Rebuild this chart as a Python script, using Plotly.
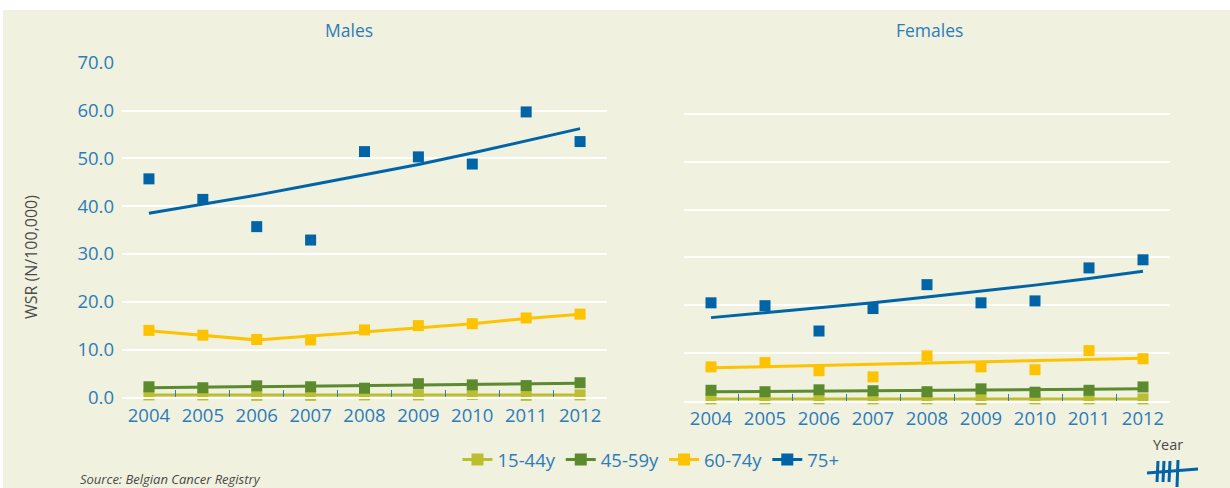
import plotly.graph_objects as go

# Incidence (WSR per 100,000) by age group, Belgium 2004-2012
years = ["2004", "2005", "2006", "2007", "2008", "2009", "2010", "2011", "2012"]
age_groups = ["15-44y", "45-59y", "60-74y", "75+"]

# Males: observed rates
males_15_44 = [0.5, 0.5, 0.4, 0.4, 0.5, 0.5, 0.6, 0.4, 0.5]
males_45_59 = [2.2, 2.0, 2.4, 2.2, 1.9, 2.85, 2.6, 2.45, 3.05]
males_60_74 = [14.0, 13.0, 12.1, 12.0, 14.1, 15.0, 15.4, 16.6, 17.4]
males_75 = [45.7, 41.4, 35.7, 32.9, 51.4, 50.3, 48.8, 59.7, 53.5]
# Males: fitted trends
males_15_44_fit = [0.5, 0.5, 0.5, 0.5, 0.5, 0.5, 0.5, 0.5, 0.5]
males_45_59_fit = [2.0, 2.1, 2.2, 2.3, 2.4, 2.55, 2.65, 2.8, 2.95]
males_60_74_fit = [13.9, 12.9, 12.0, 12.8, 13.7, 14.6, 15.4, 16.5, 17.4]
males_75_fit = [38.5, 40.4, 42.3, 44.4, 46.6, 48.7, 51.1, 53.6, 56.2]

# Females: observed rates
females_15_44 = [0.4, 0.4, 0.4, 0.4, 0.4, 0.3, 0.4, 0.4, 0.4]
females_45_59 = [2.2, 1.9, 2.3, 2.1, 1.9, 2.5, 1.8, 2.2, 2.9]
females_60_74 = [7.1, 8.0, 6.3, 5.0, 9.4, 7.1, 6.5, 10.5, 8.8]
females_75 = [20.5, 19.9, 14.6, 19.3, 24.3, 20.5, 20.9, 27.8, 29.5]
# Females: fitted trends
females_15_44_fit = [0.4, 0.4, 0.4, 0.4, 0.4, 0.4, 0.4, 0.4, 0.4]
females_45_59_fit = [1.9, 1.95, 2.0, 2.05, 2.1, 2.2, 2.3, 2.4, 2.5]
females_60_74_fit = [6.9, 7.15, 7.4, 7.65, 7.9, 8.15, 8.4, 8.65, 8.9]
females_75_fit = [17.4, 18.4, 19.4, 20.5, 21.7, 22.9, 24.2, 25.6, 27.1]

y_ticks = [0, 10, 20, 30, 40, 50, 60, 70]

colors = ["#BBBE30", "#5C8A2F", "#FDC300", "#0064A7"]
TEXT_BLUE = "#2C7CBB"
GREY = "#4A4A4A"
BG = "#F0F1DE"
FONT = "Open Sans"
W, H = 1230, 488

males_obs = [males_15_44, males_45_59, males_60_74, males_75]
males_fit = [males_15_44_fit, males_45_59_fit, males_60_74_fit, males_75_fit]
females_obs = [females_15_44, females_45_59, females_60_74, females_75]
females_fit = [females_15_44_fit, females_45_59_fit, females_60_74_fit, females_75_fit]

fig = go.Figure()

for xa, ya, obs, fit in [("x", "y", males_obs, males_fit), ("x2", "y2", females_obs, females_fit)]:
    for i in range(4):
        fig.add_trace(go.Scatter(
            x=years, y=obs[i], xaxis=xa, yaxis=ya, mode="markers",
            marker=dict(symbol="square", size=11, color=colors[i]),
            showlegend=False, cliponaxis=False, hoverinfo="x+y",
        ))
        fig.add_trace(go.Scatter(
            x=years, y=fit[i], xaxis=xa, yaxis=ya, mode="lines",
            line=dict(color=colors[i], width=3),
            showlegend=False, cliponaxis=False, hoverinfo="skip",
        ))

# legend entries (line + square marker)
for i, name in enumerate(age_groups):
    fig.add_trace(go.Scatter(
        x=[None], y=[None], mode="lines+markers", name=name,
        line=dict(color=colors[i], width=3),
        marker=dict(symbol="square", size=12, color=colors[i]),
    ))


def px_x(v):
    return v / W


def px_y(v):
    return 1 - v / H


xaxis_common = dict(
    type="category", tickson="boundaries", ticks="inside", ticklen=7,
    tickcolor=TEXT_BLUE, tickwidth=1, showgrid=False, zeroline=False,
    showline=True, linecolor="white", linewidth=2,
    tickfont=dict(family=FONT, size=18.5, color=TEXT_BLUE),
    range=[-0.5, 8.5], fixedrange=True, automargin=False,
)
yaxis_common = dict(
    range=[0, 70], tickvals=y_ticks, showgrid=True, gridcolor="white",
    gridwidth=2, zeroline=False, showline=False, ticks="", fixedrange=True,
    automargin=False,
)

fig.update_layout(
    width=W, height=H,
    margin=dict(l=0, r=0, t=0, b=0, pad=0, autoexpand=False),
    paper_bgcolor="white", plot_bgcolor="rgba(0,0,0,0)",
    font=dict(family=FONT, color=TEXT_BLUE),
    xaxis=dict(domain=[px_x(122), px_x(607)], anchor="y", **xaxis_common),
    xaxis2=dict(domain=[px_x(684), px_x(1170)], anchor="y2", **xaxis_common),
    yaxis=dict(
        domain=[px_y(397.3), px_y(62.7)], anchor="x",
        ticktext=[f"{v:.1f}" for v in y_ticks], tickmode="array",
        tickfont=dict(family=FONT, size=18.5, color=TEXT_BLUE),
        ticklabelstandoff=7,
        **yaxis_common,
    ),
    yaxis2=dict(
        domain=[px_y(400.8), px_y(66.2)], anchor="x2", showticklabels=False,
        **yaxis_common,
    ),
    legend=dict(
        orientation="h", x=px_x(651), xanchor="center", y=px_y(460), yanchor="middle",
        font=dict(family=FONT, size=18.5, color=TEXT_BLUE),
        bgcolor="rgba(0,0,0,0)", itemwidth=30, tracegroupgap=0,
    ),
    showlegend=True,
)

# beige panel background
fig.add_shape(type="rect", xref="paper", yref="paper", layer="below",
              x0=px_x(3), x1=1, y0=0, y1=px_y(10),
              fillcolor=BG, line=dict(width=0))

# panel titles
for text, xc in [("Males", 349), ("Females", 929)]:
    fig.add_annotation(text=text, xref="paper", yref="paper", x=px_x(xc), y=px_y(30),
                       showarrow=False, xanchor="center", yanchor="middle",
                       font=dict(family=FONT, size=17.5, color=TEXT_BLUE))

fig.add_annotation(text="WSR (N/100,000)", xref="paper", yref="paper",
                   x=px_x(31), y=px_y(257), showarrow=False, textangle=-90,
                   xanchor="center", yanchor="middle",
                   font=dict(family=FONT, size=16, color=GREY))
fig.add_annotation(text="<i>Source: Belgian Cancer Registry</i>", xref="paper", yref="paper",
                   x=px_x(78), y=px_y(479), showarrow=False, xanchor="left", yanchor="middle",
                   font=dict(family=FONT, size=13, color=GREY))
fig.add_annotation(text="Year", xref="paper", yref="paper",
                   x=px_x(1168), y=px_y(444), showarrow=False, xanchor="center", yanchor="middle",
                   font=dict(family=FONT, size=14.5, color=GREY))

# tally-mark logo
logo_strokes = [
    ((1158, 461), (1157, 482)),
    ((1164, 461), (1163, 482)),
    ((1170, 461), (1169, 482)),
    ((1178, 460), (1177, 487)),
    ((1147, 473), (1198, 469)),
]
for (xa_, ya_), (xb_, yb_) in logo_strokes:
    fig.add_shape(type="line", xref="paper", yref="paper",
                  x0=px_x(xa_), y0=px_y(ya_), x1=px_x(xb_), y1=px_y(yb_),
                  line=dict(color="#0064A7", width=3))

fig.write_html("out.html")
